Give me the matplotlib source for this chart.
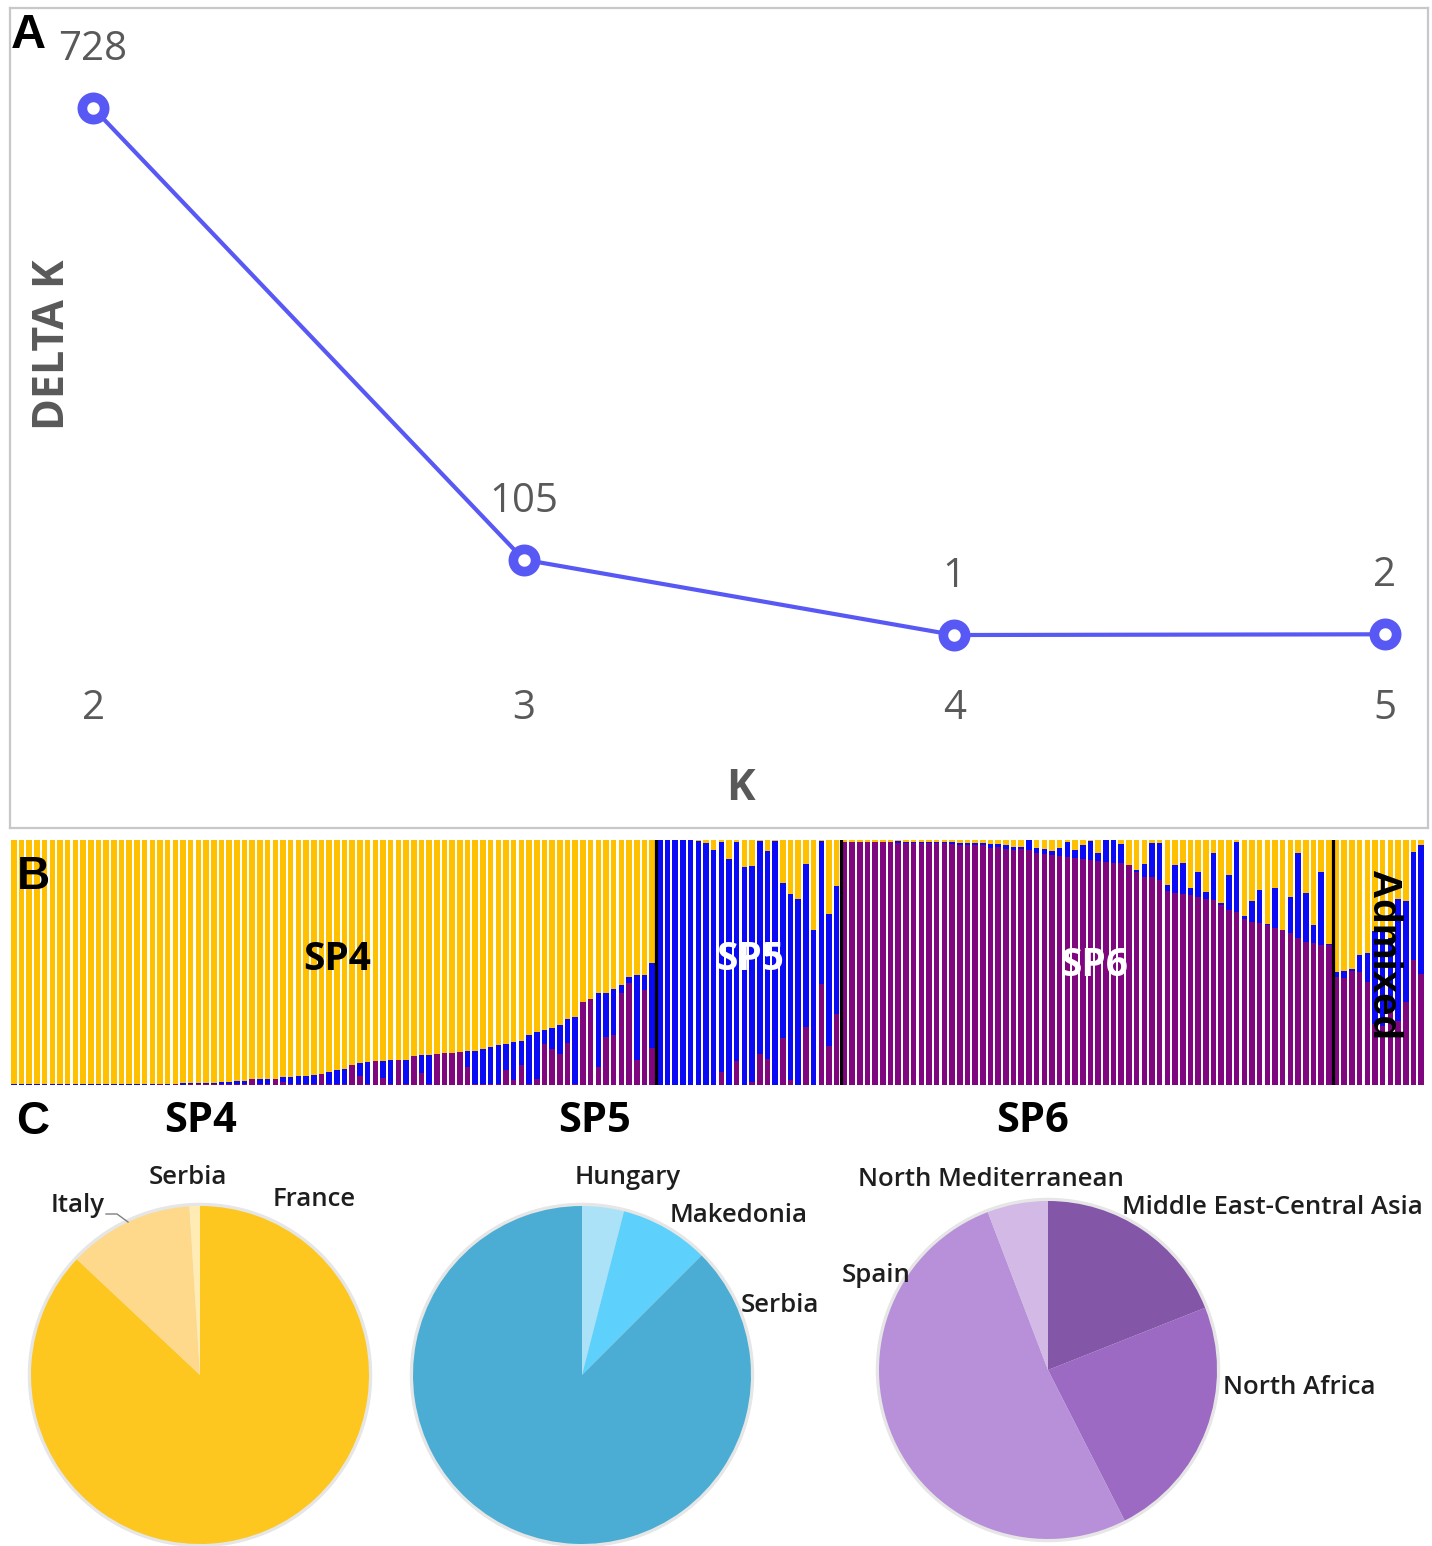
import numpy as np
import matplotlib.pyplot as plt
from matplotlib.lines import Line2D
from matplotlib.patches import Circle

plt.rcParams['font.family'] = ['Open Sans', 'DejaVu Sans']

W, H = 1432, 1546

# ---- panel A: delta K ----
k_values = [2, 3, 4, 5]
delta_k = [728, 105, 1, 2]

# ---- panel B: membership per individual (purple at bottom, blue, yellow on top) ----
sp4_purple = [0.002, 0.001, 0.002, 0.001, 0.002, 0.001, 0.002, 0.001, 0.002, 0.001,
              0.002, 0.002, 0.001, 0.002, 0.002, 0.001, 0.002, 0.002, 0.002, 0.003,
              0.002, 0.004, 0.002, 0.003, 0.005, 0.003, 0.004, 0.004, 0.006, 0.006,
              0.004, 0.023, 0.004, 0.004, 0.026, 0.014, 0.004, 0.004, 0.004, 0.005,
              0.045, 0.004, 0.005, 0.005, 0.080, 0.037, 0.005, 0.098, 0.027, 0.005,
              0.101, 0.005, 0.118, 0.050, 0.006, 0.128, 0.131, 0.129, 0.136, 0.075,
              0.004, 0.005, 0.005, 0.005, 0.061, 0.020, 0.082, 0.005, 0.023, 0.167,
              0.146, 0.127, 0.173, 0.005, 0.340, 0.350, 0.075, 0.197, 0.204, 0.374,
              0.415, 0.102, 0.388, 0.150]
sp4_blue = [0.001, 0.002, 0.001, 0.002, 0.001, 0.002, 0.001, 0.002, 0.002, 0.002,
            0.002, 0.002, 0.003, 0.002, 0.003, 0.003, 0.003, 0.002, 0.004, 0.003,
            0.004, 0.002, 0.005, 0.006, 0.004, 0.006, 0.005, 0.008, 0.006, 0.012,
            0.014, 0.000, 0.019, 0.020, 0.000, 0.020, 0.030, 0.033, 0.033, 0.037,
            0.000, 0.050, 0.055, 0.059, 0.000, 0.051, 0.089, 0.000, 0.072, 0.096,
            0.000, 0.098, 0.000, 0.071, 0.115, 0.000, 0.000, 0.000, 0.000, 0.064,
            0.135, 0.143, 0.151, 0.158, 0.106, 0.156, 0.099, 0.198, 0.193, 0.057,
            0.088, 0.117, 0.095, 0.274, 0.000, 0.000, 0.299, 0.177, 0.186, 0.033,
            0.024, 0.346, 0.061, 0.349]

sp5_purple = [0, 0, 0, 0, 0, 0, 0, 0, 0.054, 0, 0.100, 0, 0.014, 0.125, 0.106, 0,
              0.190, 0.020, 0, 0.238, 0, 0.412, 0.160, 0.288]
sp5_blue = [1.0, 1.0, 1.0, 1.0, 1.0, 0.995, 0.986, 0.959, 0.939, 0.922, 0.893, 0.888,
            0.881, 0.871, 0.849, 0.996, 0.636, 0.758, 0.759, 0.663, 0.633, 0.584, 0.538, 0.524]

sp6_purple = [0.992, 0.992, 0.992, 0.992, 0.992, 0.992, 0.992, 0.989, 0.989, 0.989,
              0.989, 0.989, 0.989, 0.989, 0.984, 0.978, 0.978, 0.978, 0.978, 0.967,
              0.970, 0.965, 0.959, 0.962, 0.959, 0.948, 0.943, 0.939, 0.935, 0.932,
              0.925, 0.921, 0.918, 0.916, 0.912, 0.907, 0.905, 0.898, 0.871, 0.850,
              0.848, 0.837, 0.793, 0.782, 0.780, 0.776, 0.769, 0.758, 0.755, 0.735,
              0.714, 0.707, 0.676, 0.667, 0.660, 0.653, 0.639, 0.633, 0.619, 0.599,
              0.585, 0.578, 0.571, 0.571]
sp6_blue = [0, 0, 0, 0, 0, 0, 0, 0.006, 0.003, 0.003,
            0.003, 0.003, 0.003, 0.003, 0.008, 0.010, 0.010, 0.010, 0.010, 0.018,
            0.012, 0.015, 0.014, 0.011, 0.041, 0.018, 0.019, 0.018, 0.031, 0.061,
            0.034, 0.058, 0.079, 0.030, 0.088, 0.093, 0.079, 0, 0.007, 0.054,
            0.141, 0.152, 0.023, 0.116, 0.125, 0.027, 0.102, 0.031, 0.193, 0.007,
            0.143, 0.286, 0.014, 0.086, 0.136, 0.004, 0.167, 0, 0.150, 0.347,
            0.197, 0.075, 0.299, 0.005]

adm_purple = [0.440, 0.435, 0.465, 0.463, 0.420, 0.250, 0.240, 0.300, 0.260, 0.340, 0.510, 0.455]
adm_blue = [0.020, 0.030, 0.010, 0.068, 0.120, 0.380, 0.400, 0.300, 0.500, 0.410, 0.440, 0.525]

group_names = ['SP4', 'SP5', 'SP6', 'Admixed']

# ---- panel C: origin of accessions per subpopulation ----
sp4_origin = ['France', 'Italy', 'Serbia']
sp4_share = [87, 12, 1]
sp5_origin = ['Hungary', 'Makedonia', 'Serbia']
sp5_share = [4, 8.5, 87.5]
sp6_origin = ['Middle East-Central Asia', 'North Africa', 'Spain', 'North Mediterranean']
sp6_share = [19, 23.5, 51.7, 5.8]

YELLOW, BLUE, PURPLE = '#FFC000', '#0A0AF5', '#7F067F'
LINE_BLUE = '#5858F4'
GRAY_TXT = '#595959'

fig = plt.figure(figsize=(W / 100, H / 100), dpi=100)


def px_axes(l, t, r, b):
    return fig.add_axes([l / W, 1 - b / H, (r - l) / W, (b - t) / H])


def px_text(x, y, s, **kw):
    kw.setdefault('ha', 'center')
    kw.setdefault('va', 'center')
    fig.text(x / W, 1 - y / H, s, **kw)


# ================= A =================
ax = px_axes(10, 8, 1428, 828)
ax.plot(k_values, delta_k, color=LINE_BLUE, lw=3, marker='o', ms=16, mew=7,
        mfc='white', mec=LINE_BLUE, zorder=3)
for k, d in zip(k_values, delta_k):
    ax.annotate(str(d), (k, d), xytext=(0, 42), textcoords='offset points',
                ha='center', va='center', fontsize=29, color=GRAY_TXT)
    ax.text(k, 0.146, str(k), transform=ax.get_xaxis_transform(),
            ha='center', va='center', fontsize=29, color=GRAY_TXT)
ax.set_xlim(1.807, 5.100)
ax.set_ylim(-265.2, 865.9)
ax.set_xticks([])
ax.set_yticks([])
for sp in ax.spines.values():
    sp.set_color('#C8C8C8')
    sp.set_linewidth(1.6)

px_text(740, 788, 'K', fontsize=31, fontweight='bold', color=GRAY_TXT)
px_text(52, 345, 'DELTA K', fontsize=31, fontweight='bold', color=GRAY_TXT, rotation=90)
px_text(28, 35, 'A', fontsize=35, fontweight='bold', family='Liberation Sans')

# ================= B =================
purple = np.concatenate([sp4_purple, sp5_purple, sp6_purple, adm_purple])
blue = np.concatenate([sp4_blue, sp5_blue, sp6_blue, adm_blue])
yellow = 1 - purple - blue
x = np.arange(len(purple))

axb = px_axes(10, 840, 1425, 1085)
axb.bar(x, purple, width=0.72, color=PURPLE, linewidth=0)
axb.bar(x, blue, bottom=purple, width=0.72, color=BLUE, linewidth=0)
axb.bar(x, yellow, bottom=purple + blue, width=0.72, color=YELLOW, linewidth=0)
sizes = [len(sp4_purple), len(sp5_purple), len(sp6_purple)]
for edge in np.cumsum(sizes) - 0.5:
    axb.axvline(edge, color='black', lw=2.3, zorder=4)
axb.set_xlim(-0.5, len(purple) - 0.5)
axb.set_ylim(0, 1)
axb.axis('off')

px_text(33, 877, 'B', fontsize=33, fontweight='bold', family='Liberation Sans')
px_text(337, 960, group_names[0], fontsize=28, fontweight='bold', color='black')
px_text(750, 960, group_names[1], fontsize=28, fontweight='bold', color='white')
px_text(1094, 965, group_names[2], fontsize=28, fontweight='bold', color='white')
px_text(1383, 955, group_names[3], fontsize=29, fontweight='bold', color='black',
        rotation=-90, family='Liberation Sans')

# ================= C =================
px_text(33, 1122, 'C', fontsize=33, fontweight='bold', family='Liberation Sans')
px_text(200, 1122, group_names[0], fontsize=30, fontweight='bold')
px_text(595, 1122, group_names[1], fontsize=30, fontweight='bold')
px_text(1033, 1122, group_names[2], fontsize=30, fontweight='bold')

R = 169
pies = [
    ((200, 1375), sp4_share, ['#FDC71F', '#FED98B', '#FFECB5']),
    ((582, 1375), sp5_share, ['#ABE2F8', '#5DD0FB', '#4BADD3']),
    ((1048, 1370), sp6_share, ['#8456A8', '#9C69C3', '#B890DA', '#D2B9E6']),
]
for (cx, cy), share, cols in pies:
    half = R * 1.05
    axp = px_axes(cx - half, cy - half, cx + half, cy + half)
    axp.add_patch(Circle((0, 0), 1.015, color='#E6E6E6', zorder=0))
    axp.pie(share, colors=cols, startangle=90, counterclock=False, radius=1,
            wedgeprops=dict(linewidth=0))
    axp.set_xlim(-1.05, 1.05)
    axp.set_ylim(-1.05, 1.05)
    axp.set_aspect('equal')
    axp.axis('off')

label_pos = {
    'Italy': (78, 1206), 'Serbia_sp4': (188, 1177), 'France': (314, 1199),
    'Hungary': (628, 1178), 'Makedonia': (739, 1215), 'Serbia_sp5': (780, 1305),
    'North Mediterranean': (991, 1180), 'Middle East-Central Asia': (1272, 1208),
    'Spain': (876, 1275), 'North Africa': (1299, 1388),
}
for key, (lx, ly) in label_pos.items():
    px_text(lx, ly, key.split('_')[0], fontsize=18.5, fontweight='semibold', color='#1E1E1E')

# small leader line from the Italy label
fig.add_artist(Line2D([106 / W, 117 / W, 128 / W],
                      [1 - 1214 / H, 1 - 1214 / H, 1 - 1222 / H],
                      color='#808080', lw=1))

fig.savefig('out.png', dpi=100)
